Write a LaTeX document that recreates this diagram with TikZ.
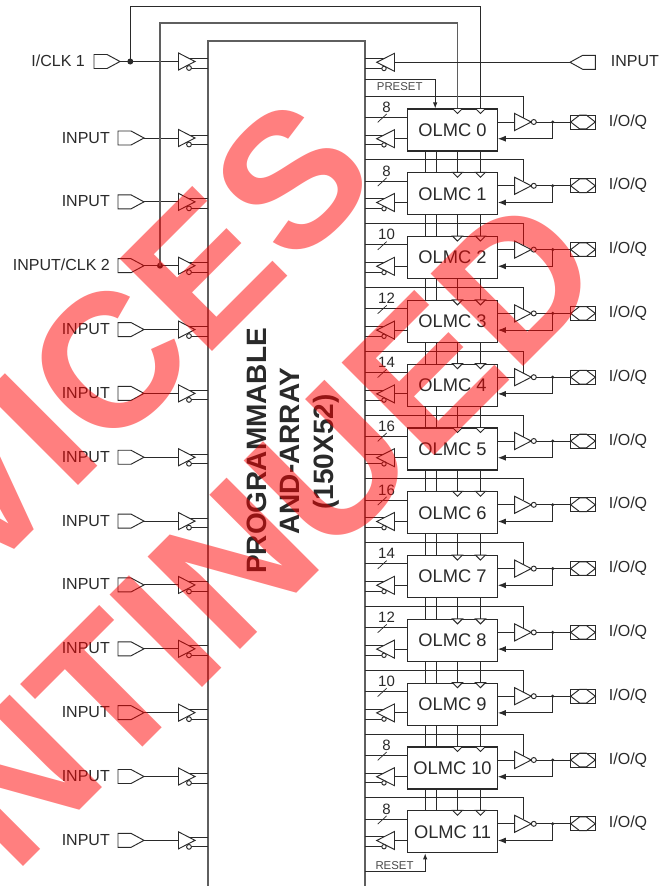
\documentclass[tikz,border=0pt]{standalone}
\usepackage{fontspec}
\setmainfont{Liberation Sans}
\usetikzlibrary{arrows.meta}
\definecolor{ink}{HTML}{2A2A2A}
\definecolor{gline}{HTML}{5F5F5F}
\definecolor{wm}{HTML}{FF0000}
\tikzset{
  ln/.style={draw=ink,line width=0.95pt},
  gl/.style={draw=gline,line width=1.15pt},
  sym/.style={draw=ink,line width=0.95pt,fill=white,line join=miter},
  lab/.style={text=ink,inner sep=0pt,font=\fontsize{16}{16}\selectfont},
  olmcbox/.style={draw=ink,line width=1.05pt,fill=white,inner sep=0pt,minimum width=89.6pt,minimum height=42pt,text=ink,font=\fontsize{18.3}{18}\selectfont},
  tiny/.style={text=ink!85,inner sep=0pt,font=\fontsize{11.4}{11}\selectfont},
  bustag/.style={text=ink,inner sep=0pt,font=\fontsize{15}{15}\selectfont},
  titletxt/.style={text=ink,inner sep=0pt,rotate=90,anchor=base,font=\bfseries\fontsize{28}{28}\selectfont},
  wmark/.style={text=wm,text opacity=0.5,inner sep=0pt,rotate=45,anchor=base west,font=\bfseries\fontsize{190}{190}\selectfont},
  bigtip/.style={-{Latex[length=8pt,width=6pt]}},
  smalltip/.style={-{Latex[length=6pt,width=4.5pt]}}
}
% left input pad: name, left x, y
\newcommand\padR[3]{\draw[sym] (#2,#3-7) -- (#2+13,#3-7) -- (#2+26,#3) -- (#2+13,#3+7) -- (#2,#3+7) -- cycle;
  \coordinate (#1) at (#2+26,#3);}
% buffer on the left of the array: name, y
\newcommand\bufR[2]{\draw[ln] (189,#2-3) -- (208,#2-3) (191,#2+6.5) -- (208,#2+6.5);
  \draw[sym] (178.5,#2-8.5) -- (195,#2) -- (178.5,#2+8.5) -- cycle;
  \draw[sym] (189,#2+6.5) circle (2.4);
  \coordinate (#1) at (178.5,#2);}
% buffer on the right of the array: name, y
\newcommand\bufL[2]{\draw[ln] (365,#2-3.6) -- (385,#2-3.6) (365,#2+6.2) -- (382,#2+6.2);
  \draw[sym] (394.5,#2-9) -- (376.7,#2) -- (394.5,#2+9) -- cycle;
  \draw[sym] (384,#2+6.2) circle (2.2);
  \coordinate (#1) at (394.5,#2);}
\begin{document}
\begin{tikzpicture}[x=1pt,y=-1pt]
\useasboundingbox (0,0) rectangle (669,886);
\clip (0,0) rectangle (669,886);
\fill[white] (0,0) rectangle (669,886);

% the array
\draw[gl] (208,886) -- (208,41) -- (365,41) -- (365,886);
\node[titletxt] (t1) at (266,451) {PROGRAMMABLE};
\node[titletxt] (t2) at (299,451) {AND-ARRAY};
\node[titletxt] (t3) at (333,452) {(150X52)};

% OLMC blocks
\foreach \k in {0,...,11}{
  \pgfmathsetmacro\yy{130+63.8*\k}
  \node[olmcbox] (olmc\k) at (452.5,\yy) {\raisebox{-0.8pt}{OLMC \k}};
}
% rows around each block
\foreach \k/\n in {0/8,1/8,2/10,3/12,4/14,5/16,6/16,7/14,8/12,9/10,10/8,11/8}{
  \pgfmathsetmacro\yy{130+63.8*\k}
  \pgfmathsetmacro\yrow{\yy-34}
  \pgfmathsetmacro\ybus{\yy-12.7}
  \pgfmathsetmacro\ytag{\yy-17.7}
  \pgfmathsetmacro\yfb{\yy+8.7}
  \pgfmathsetmacro\yio{\yy-8}
  % buses from the array
  \coordinate (arow\k) at (365,\yrow);
  \coordinate (abus\k) at (365,\ybus);
  \draw[ln] (abus\k) -- (olmc\k.west |- abus\k);
  \coordinate (sl1\k) at (377.7,\yy-7.7);
  \coordinate (sl2\k) at (386.7,\yy-16);
  \draw[ln,line width=.7pt] (sl1\k) -- (sl2\k);
  \node[bustag,anchor=base] (tag\k) at (386.5,\ytag) {\n};
  % return buffer
  \bufL{bl\k}{\yfb}
  \draw[ln] (olmc\k.west |- bl\k) -- (bl\k);
  % output inverter
  \coordinate (invin\k) at (514.7,\yio);
  \draw[ln] (olmc\k.east |- invin\k) -- (invin\k);
  \draw[ln] (arow\k) -- (523.3,\yrow) -- (523.3,\yio-4.5);
  \draw[sym] (514.7,\yio-8.5) -- (531.2,\yio) -- (514.7,\yio+8.5) -- cycle;
  \draw[sym] (533.8,\yio) circle (2.5);
  \coordinate (invout\k) at (536.3,\yio);
  % I/O pad
  \coordinate (io\k) at (570.7,\yio);
  \draw[ln] (invout\k) -- (io\k);
  \fill[ink] (552.7,\yio) circle (1.7);
  \coordinate (fbdot\k) at (552.7,\yio);
  \draw[ln,bigtip] (fbdot\k) |- (olmc\k.east |- bl\k);
  \draw[sym] (570.7,\yio-7) rectangle (595.3,\yio+7);
  \draw[ln] (570.7,\yio) -- (579.5,\yio-6.8) -- (586.5,\yio-6.8) -- (595.3,\yio) -- (586.5,\yio+6.8) -- (579.5,\yio+6.8) -- cycle;
  \node[lab,anchor=base west] (iolab\k) at (608.7,\yio+4) {I/O/Q};
  % clock triangles
  \draw[sym] ([xshift=45.3pt]olmc\k.north west) -- ([xshift=55.3pt]olmc\k.north west) -- ([xshift=50.3pt,yshift=-5pt]olmc\k.north west) -- cycle;
  \draw[sym] ([xshift=68.3pt]olmc\k.north west) -- ([xshift=78.3pt]olmc\k.north west) -- ([xshift=73.3pt,yshift=-5pt]olmc\k.north west) -- cycle;
}
% links between neighbouring blocks
\foreach \k in {0,...,10}{
  \pgfmathtruncatemacro\nx{\k+1}
  \foreach \dx in {18,29.6,50.3,73.3}{
    \draw[ln] ([xshift=\dx pt]olmc\k.south west) -- ([xshift=\dx pt]olmc\nx.north west);
  }
}

% left inputs
\padR{pad0}{94}{61.5}
\bufR{br0}{61.5}
\node[lab,anchor=base east] (lab0) at (85,66.7) {I/CLK 1};
\fill[ink] (130.3,61.5) circle (3);
\coordinate (dot1) at (130.3,61.5);
\foreach \k/\t in {1/INPUT,2/INPUT,3/{INPUT/CLK 2},4/INPUT,5/INPUT,6/INPUT,7/INPUT,8/INPUT,9/INPUT,10/INPUT,11/INPUT,12/INPUT}{
  \pgfmathsetmacro\yy{138+63.85*(\k-1)}
  \padR{pad\k}{118}{\yy}
  \bufR{br\k}{\yy}
  \draw[ln] (pad\k) -- (br\k);
  \node[lab,anchor=base east] (lab\k) at (110,\yy+5) {\t};
}
\draw[ln] (pad0) -- (br0);
\coordinate (dot2) at (160,265.7);
\fill[ink] (dot2) circle (3);

% clock loops
\draw[ln,line width=1pt] (dot1) -- (130.3,6.7) -| ([xshift=73.3pt]olmc0.north west);
\draw[gl] (dot2) -- (160,23) -| ([xshift=50.3pt]olmc0.north west);

% right top input
\draw[sym] (595.3,55.3) -- (582.7,55.3) -- (570,62.3) -- (582.7,69.3) -- (595.3,69.3) -- cycle;
\coordinate (padT) at (570,62.3);
\bufL{brT}{62.3}
\draw[ln] (padT) -- (brT);
\node[lab,anchor=base west] (labT) at (610.7,66.7) {INPUT};

% preset and reset
\coordinate (pre) at (365,79.3);
\draw[ln,smalltip] (pre) -| ([xshift=28pt]olmc0.north west);
\node[tiny,anchor=base west] (pretxt) at (376.7,90) {PRESET};
\coordinate (res) at (365,871);
\draw[ln,smalltip] (res) -| ([xshift=18pt]olmc11.south west);
\node[tiny,anchor=base west] (restxt) at (375.3,869.3) {RESET};

% watermark
\node[wmark] (w1) at (-20.7,584.7) {VICES};
\node[wmark] (w2) at (14.6,875.4) {NTINUED};
\end{tikzpicture}
\end{document}
